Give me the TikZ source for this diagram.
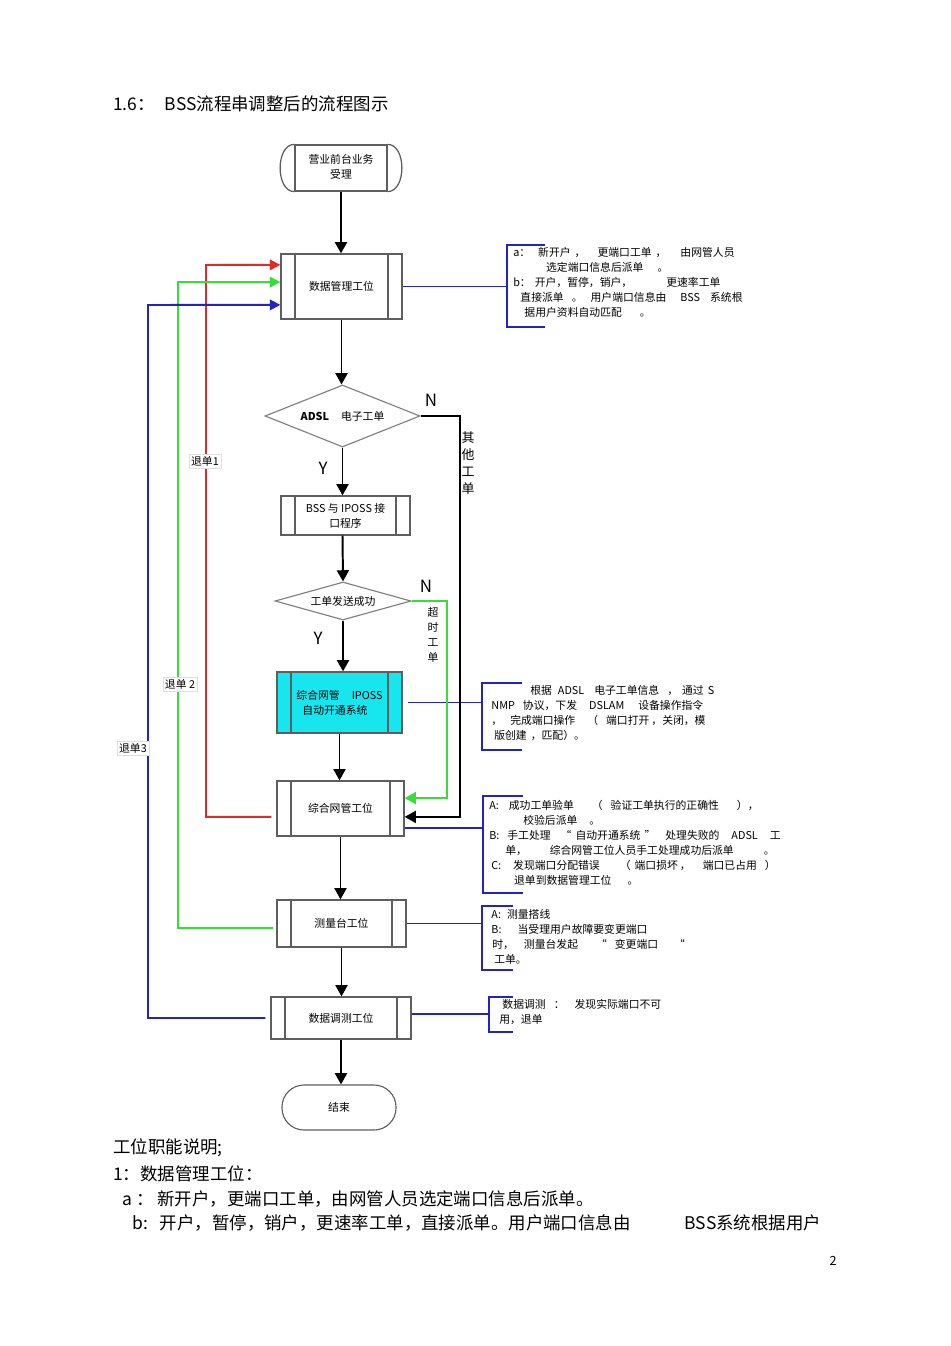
\documentclass[tikz,border=0pt]{standalone}
\usepackage{fontspec}
\setmainfont{Noto Sans CJK SC}
\usepackage{tikz}
\usetikzlibrary{shapes.geometric,arrows.meta}
\definecolor{bssGray}{HTML}{5E5E5E}
\definecolor{bssRed}{HTML}{E02A2A}
\definecolor{bssGreen}{HTML}{36DE36}
\definecolor{bssBlue}{HTML}{2323BE}
\definecolor{bssCyan}{HTML}{17E6EF}
\tikzset{
  procbox/.style={rectangle,draw=bssGray,line width=0.9pt,fill=white,inner sep=0pt,align=center,
    font=\fontsize{7.7}{10.7}\selectfont,
    path picture={\draw[bssGray,line width=0.9pt]
      ([xshift=0.35cm]path picture bounding box.north west) -- ([xshift=0.35cm]path picture bounding box.south west)
      ([xshift=-0.35cm]path picture bounding box.north east) -- ([xshift=-0.35cm]path picture bounding box.south east);}},
  termbox/.style={rectangle,draw=bssGray,line width=0.9pt,inner sep=0pt,align=center,
    font=\fontsize{7.7}{10.7}\selectfont},
  endbox/.style={rectangle,rounded corners=0.55cm,draw=bssGray,line width=0.8pt,inner sep=0pt,
    font=\fontsize{7.7}{10.7}\selectfont},
  boxline/.style={draw=bssGray,line width=0.9pt},
  decision/.style={diamond,aspect=3.2,draw=bssGray!80,line width=0.8pt,inner sep=0pt,align=center,
    font=\fontsize{7.7}{10.7}\selectfont},
  arrow/.style={-{Triangle[width=0.3cm,length=0.28cm]},line width=1.4pt},
  backline/.style={-{Triangle[width=0.26cm,length=0.26cm]},line width=1.4pt},
  noteline/.style={draw=bssBlue,line width=1.4pt},
  bracket/.style={draw=bssBlue,line width=1.6pt},
  note/.style={anchor=north west,align=left,inner xsep=0.15cm,inner ysep=0.04cm,
    font=\fontsize{7.7}{10.7}\selectfont},
  tag/.style={fill=white,draw=gray!25,line width=0.4pt,inner sep=1.5pt,font=\fontsize{7.7}{9}\selectfont},
  yn/.style={font=\fontsize{12}{14}\selectfont},
  side/.style={align=center,inner sep=0pt,font=\fontsize{7.7}{10.7}\selectfont},
  plain/.style={anchor=west,inner sep=0pt,font=\fontsize{12.4}{15}\selectfont}
}
\begin{document}
\begin{tikzpicture}[x=0.025cm,y=-0.025cm]
\useasboundingbox (0,0) rectangle (950,1346);
\node[plain] (title) at (113,104) {1.6：\hspace{0.25cm}BSS流程串调整后的流程图示};

\node[termbox, minimum width=2.3cm, minimum height=1.15cm] (start) at (341,168) {\raisebox{0.1cm}{\begin{tabular}{@{}c@{}}营业前台业务\\受理\end{tabular}}};
\node[procbox, minimum width=3.025cm, minimum height=1.625cm] (dm) at (341.5,286.5) {数据管理工位};
\node[decision, minimum width=3.875cm, minimum height=1.55cm] (d1) at (342.5,416) {\textbf{ADSL}\hspace{0.3cm}电子工单};
\node[procbox, minimum width=3.225cm, minimum height=0.975cm] (bss) at (345.5,515.5) {BSS 与 IPOSS 接\\口程序};
\node[decision, minimum width=3.4cm, minimum height=0.95cm] (d2) at (343,601) {工单发送成功};
\node[procbox, fill=bssCyan, align=left, minimum width=3.125cm, minimum height=1.525cm] (ip) at (339.5,702.5) {综合网管\hspace{0.3cm}IPOSS\\\hspace*{0.15cm}自动开通系统};
\node[procbox, minimum width=3.175cm, minimum height=1.375cm] (zh) at (340.5,808.5) {综合网管工位};
\node[procbox, minimum width=3.225cm, minimum height=1.175cm] (cl) at (341.5,923.5) {测量台工位};
\node[procbox, minimum width=3.5cm, minimum height=1.05cm] (ts) at (341,1018) {数据调测工位};
\node[endbox, minimum width=2.85cm, minimum height=1.125cm] (stop) at (339,1107.5) {结束};

\draw[boxline] (start.north west) .. controls +(-19,0) and +(-19,0) .. (start.south west);
\draw[boxline] (start.north east) .. controls +(19,0) and +(19,0) .. (start.south east);

\node[note] (na) at (507,245) {a：\hspace{0.2cm}新开户\hspace{0.1cm}，\hspace{0.3cm}更端口工单\hspace{0.1cm}，\hspace{0.35cm}由网管人员\\
\hspace*{0.82cm}选定端口信息后派单\hspace{0.35cm}。\\
b：\hspace{0.1cm}开户，暂停，销户，\hspace{0.85cm}更速率工单\\
\hspace*{0.18cm}直接派单\hspace{0.2cm}。\hspace{0.2cm}用户端口信息由\hspace{0.35cm}BSS\hspace{0.25cm}系统根\\
\hspace*{0.28cm}据用户资料自动匹配\hspace{0.45cm}。};
\node[note] (nb) at (482,683) {\hspace*{1.05cm}根据\hspace{0.15cm}ADSL\hspace{0.25cm}电子工单信息\hspace{0.2cm}，\hspace{0.1cm}通过\hspace{0.1cm}S\\
\hspace*{0.08cm}NMP\hspace{0.2cm}协议，下发\hspace{0.3cm}DSLAM\hspace{0.35cm}设备操作指令\\
\hspace*{0.08cm}，\hspace{0.2cm}完成端口操作\hspace{0.3cm}（\hspace{0.2cm}端口打开\hspace{0.05cm}，关闭，模\\
\hspace*{0.15cm}版创建\hspace{0.1cm}，匹配）。};
\node[note, inner ysep=0.09cm] (nc) at (483,796) {A:\hspace{0.25cm}成功工单验单\hspace{0.45cm}（\hspace{0.2cm}验证工单执行的正确性\hspace{0.45cm}），\\
\hspace*{0.85cm}校验后派单\hspace{0.3cm}。\\
B:\hspace{0.2cm}手工处理\hspace{0.25cm}“\hspace{0.1cm}自动开通系统\hspace{0.1cm}”\hspace{0.25cm}处理失败的\hspace{0.3cm}ADSL\hspace{0.3cm}工\\
\hspace*{0.4cm}单，\hspace{0.57cm}综合网管工位人员手工处理成功后派单\hspace{0.75cm}。\\
\hspace*{0.05cm}C:\hspace{0.3cm}发现端口分配错误\hspace{0.5cm}（\hspace{0.1cm}端口损坏\hspace{0.05cm}，\hspace{0.3cm}端口已占用\hspace{0.2cm}）\\
\hspace*{0.62cm}退单到数据管理工位\hspace{0.4cm}。};
\node[note, inner ysep=0.065cm] (nd) at (482,906) {\hspace*{0.08cm}A:\hspace{0.15cm}测量搭线\\
\hspace*{0.08cm}B:\hspace{0.4cm}当受理用户故障要变更端口\\
\hspace*{0.1cm}时，\hspace{0.25cm}测量台发起\hspace{0.45cm}“\hspace{0.2cm}变更端口\hspace{0.4cm}“\\
\hspace*{0.15cm}工单。};
\node[note] (ne) at (489,997) {\hspace*{0.18cm}数据调测\hspace{0.2cm}：\hspace{0.25cm}发现实际端口不可\\
\hspace*{0.1cm}用，退单};

\draw[bracket] (na.north west) ++(38,0) -- (na.north west) -- ++(0,82) -- ++(38,0);
\draw[bracket] (nb.north west) ++(40,0) -- (nb.north west) -- ++(0,67) -- ++(40,0);
\draw[bracket] (nc.north west) ++(40,0) -- (nc.north west) -- ++(0,97) -- ++(40,0);
\draw[bracket] (nd.north west) ++(31,0) -- (nd.north west) -- ++(0,64) -- ++(31,0);
\draw[bracket] (ne.north west) ++(24,0) -- (ne.north west) -- ++(0,35) -- ++(24,0);

\draw[noteline] (dm.east) -- (dm.east -| na.west);
\draw[noteline, line width=0.7pt, shorten <=0.125cm] (ip.east) -- (ip.east -| nb.west);
\draw[noteline] ([yshift=-0.49cm]zh.east) -- ([yshift=-0.49cm]zh.east -| nc.west);
\draw[noteline] (cl.east) -- (cl.east -| nd.west);
\draw[noteline] ([yshift=0.1cm]ts.east) -- ([yshift=0.1cm]ts.east -| ne.west);

\coordinate (r1) at (206,265);
\coordinate (g1) at (178,282);
\coordinate (b1) at (148,305);
\coordinate (n1) at (460,416);
\coordinate (n2) at (447,601);

\draw[arrow] (start.south) -- (start.south |- dm.north);
\draw[arrow] (dm.south) -- (dm.south |- d1.north);
\draw[arrow] (d1.south) -- (d1.south |- bss.north);
\draw[arrow] (d1.south |- bss.south) -- (d2.north);
\draw[arrow] (d2.south) -- (d2.south |- ip.north);
\draw[arrow] (ip.south) -- (ip.south |- zh.north);
\draw[arrow] (zh.south) -- (zh.south |- cl.north);
\draw[arrow] (cl.south) -- (cl.south |- ts.north);
\draw[arrow] (ts.south) -- (ts.south |- stop.north);

\draw[arrow] (d1.east) -- (n1) |- ([yshift=-0.21cm]zh.east);
\draw[arrow, bssGreen] (d2.east) -- (n2) |- ([yshift=0.26cm]zh.east);

\draw[backline, bssRed, shorten <=0.125cm] ([yshift=-0.21cm]zh.west) -| (r1) -- ([yshift=0.54cm]dm.west);
\draw[backline, bssGreen, shorten <=0.08cm] ([yshift=-0.11cm]cl.west) -| (g1) -- ([yshift=0.11cm]dm.west);
\draw[backline, bssBlue, shorten <=0.125cm] (ts.west) -| (b1) -- ([yshift=-0.46cm]dm.west);

\node[yn] (ny1) at (431,400) {N};
\node[yn] (yy1) at (323,468) {Y};
\node[yn] (ny2) at (426,586) {N};
\node[yn] (yy2) at (318,638) {Y};
\node[side, font=\fontsize{9.2}{12.1}\selectfont] (qt) at (468,463) {其\\他\\工\\单};
\node[side] (cs) at (433,635) {超\\时\\工\\单};

\node[tag] (t1) at (205,461) {退单1};
\node[tag] (t2) at (180,684) {退单 2};
\node[tag] (t3) at (133,748) {退单3};

\node[plain] (s0) at (113,1148) {工位职能说明;};
\node[plain] (s1) at (113,1174) {1：数据管理工位：};
\node[plain] (s2) at (122,1199) {a\hspace{0.1cm}：\hspace{0.1cm}新开户，更端口工单，由网管人员选定端口信息后派单。};
\node[plain] (s3) at (132,1223) {b:\hspace{0.3cm}开户，暂停，销户，更速率工单，直接派单。用户端口信息由\hspace{1.35cm}BSS系统根据用户};
\node[font=\fontsize{9}{10}\selectfont] (pg) at (833,1261) {2};
\end{tikzpicture}
\end{document}
